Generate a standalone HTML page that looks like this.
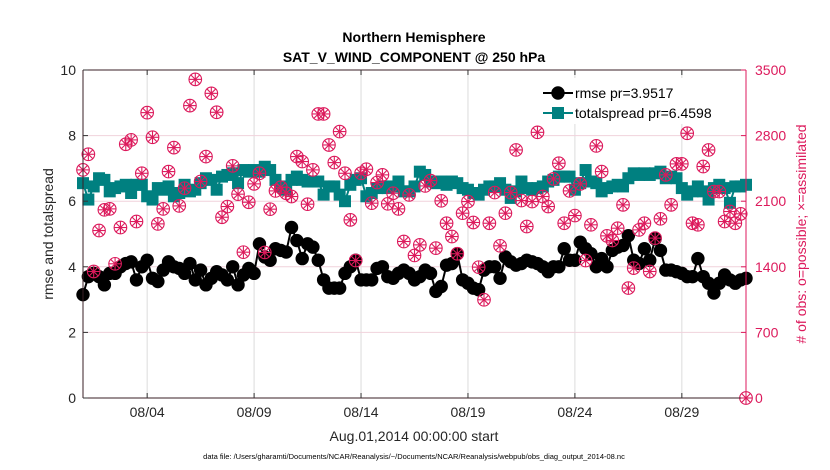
<!DOCTYPE html>
<html><head><meta charset="utf-8"><style>
html,body{margin:0;padding:0;background:#fff;}
svg{display:block;font-family:"Liberation Sans",sans-serif;}
</style></head><body>
<svg id="chart" width="830" height="470" viewBox="0 0 830 470">
<rect width="830" height="470" fill="#fff"/>
<g id="grid"></g>
<g id="series"></g>
<g id="axes"></g>
</svg>
<script>
const xTickLabels = ["08/04","08/09","08/14","08/19","08/24","08/29"];
const xTickDays = [3,8,13,18,23,28];
const yLeftTicks = [0,2,4,6,8,10];
const yRightTicks = [0,700,1400,2100,2800,3500];
const rmse = [3.15,3.7,3.8,3.7,3.45,3.8,3.8,4.0,4.1,4.15,3.6,4.0,4.2,3.65,3.55,3.9,4.15,4.0,3.95,3.8,4.1,3.6,3.9,3.45,3.65,3.85,3.75,3.6,4.0,3.45,3.75,3.95,3.8,4.7,4.3,4.2,4.55,4.5,4.45,5.2,4.8,4.25,4.7,4.6,4.2,3.6,3.35,3.35,3.35,3.8,4.0,4.2,3.6,3.6,3.6,3.95,4.0,3.7,3.65,3.8,3.9,3.8,3.6,3.7,3.9,3.8,3.25,3.4,4.05,
4.1,4.4,3.6,3.5,3.35,3.3,3.9,4.0,4.0,3.65,4.3,4.15,4.05,4.1,4.2,4.15,4.1,4.0,3.85,4.0,4.0,4.55,4.2,4.2,4.75,4.55,4.4,4.0,4.25,4.0,4.5,4.6,4.65,4.95,4.2,4.1,4.55,4.2,4.85,4.5,3.9,3.9,3.85,3.8,3.7,3.7,4.25,3.7,3.5,3.2,3.5,3.75,3.6,3.5,3.6,3.65];
const spread = [6.55,6.05,6.45,6.7,6.65,6.3,6.4,6.45,6.5,6.25,6.5,6.5,6.15,6.05,6.4,6.35,6.45,6.15,6.25,6.5,6.3,6.35,6.55,6.7,6.65,6.35,6.75,6.8,6.85,6.55,6.95,6.9,6.95,6.9,7.05,6.95,6.65,6.45,6.35,6.65,6.75,6.65,6.6,6.6,6.6,6.2,6.45,6.45,6.2,6.0,6.5,6.65,6.7,6.15,6.25,6.4,6.45,6.4,6.45,6.6,6.3,6.3,6.45,6.9,6.8,6.6,6.55,6.6,6.5,
6.6,6.55,6.4,6.35,6.25,6.2,6.35,6.45,6.45,6.55,6.35,6.1,6.3,6.6,6.4,6.35,6.4,6.45,6.6,6.65,6.75,6.75,6.75,6.35,6.55,6.95,6.6,6.55,6.3,6.4,6.45,6.5,6.45,6.7,6.85,6.8,6.85,6.8,6.85,6.9,6.7,6.75,6.7,6.4,6.2,6.3,6.45,6.3,6.05,6.4,6.5,6.4,5.95,6.45,6.45,6.5];
const obsCount = [2434,2601,1350,1787,2008,2018,1432,1819,2708,2754,1883,2398,3045,2782,1858,2018,2416,2672,2050,2239,3120,3400,2310,2576,3251,3049,1929,2043,2477,2175,1556,2089,2285,2398,1553,2015,2210,2249,2185,2150,2576,2523,2068,2434,3031,3031,2700,2512,2843,2398,1901,1467,2398,2441,2079,2299,2381,2072,2185,2018,1670,2167,1521,1634,2263,2320,1599,2104,1865,
1723,1539,1972,2096,1873,1396,1048,1865,2192,1624,1972,2192,2647,2107,1830,2096,2835,2150,2043,2338,2505,1865,2210,1947,2285,1467,1848,2690,2416,1730,1681,1812,2061,1173,1386,1794,1865,1350,1706,1912,2381,2061,2498,2498,2825,1865,1848,2470,2647,2203,2203,1883,1990,1865,1965,0];

const L=83,R=746,T=70,B=398, DAYS=31;
const NS="http://www.w3.org/2000/svg";
const xDay=d=>L+(R-L)*d/DAYS;
const xIdx=i=>xDay(i*0.25);
const yL=v=>B-(B-T)*v/10;
const yR=v=>B-(B-T)*v/3500;
function mk(tag,attrs,parent){const e=document.createElementNS(NS,tag);for(const k in attrs)e.setAttribute(k,attrs[k]);parent.appendChild(e);return e;}
const grid=document.getElementById('grid'),ser=document.getElementById('series'),ax=document.getElementById('axes');
const PINK="#dc1a5c",TEAL="#008080";

xTickDays.forEach((d,i)=>{const g=mk('line',{x1:xDay(d),x2:xDay(d),y1:T,y2:B,stroke:"#dcdcdc","stroke-width":1},grid);

});
yRightTicks.forEach(v=>{if(v===0||v===3500)return;const g=mk('line',{x1:L,x2:R,y1:yR(v),y2:yR(v),stroke:"#f0d2dc","stroke-width":1},grid);

});

const sp=spread.map((v,i)=>xIdx(i)+','+yL(v)).join(' ');
const spl=mk('polyline',{points:sp,fill:"none",stroke:TEAL,"stroke-width":2},ser);


spread.forEach((v,i)=>{const r=mk('rect',{x:xIdx(i)-6,y:yL(v)-6,width:12,height:12,fill:TEAL},ser);

});

const rp=rmse.map((v,i)=>xIdx(i)+','+yL(v)).join(' ');
const rl=mk('polyline',{points:rp,fill:"none",stroke:"#000","stroke-width":2},ser);


rmse.forEach((v,i)=>{const c=mk('circle',{cx:xIdx(i),cy:yL(v),r:6.7,fill:"#000"},ser);

});

function obsMarker(x,y,parent){const g=mk('g',{stroke:PINK,"stroke-width":1.1,fill:"none"},parent);
mk('circle',{cx:x,cy:y,r:6.3},g);
mk('line',{x1:x-6.3,x2:x+6.3,y1:y,y2:y},g);mk('line',{x1:x,x2:x,y1:y-6.3,y2:y+6.3},g);
mk('line',{x1:x-4.4,x2:x+4.4,y1:y-4.4,y2:y+4.4},g);mk('line',{x1:x-4.4,x2:x+4.4,y1:y+4.4,y2:y-4.4},g);return g;}
obsCount.forEach((v,i)=>{const g=obsMarker(xIdx(i),yR(v),ser);

});

const fr=mk('line',{x1:L,x2:R,y1:B,y2:B,stroke:"#3a1f26","stroke-width":1},ax);

const tl=mk('line',{x1:L,x2:R,y1:T,y2:T,stroke:"#3a1f26","stroke-width":1},ax);

const la=mk('line',{x1:L,x2:L,y1:T,y2:B,stroke:"#3a1f26","stroke-width":1},ax);

const ra=mk('line',{x1:R,x2:R,y1:T,y2:B,stroke:PINK,"stroke-width":1},ax);


xTickDays.forEach((d,i)=>{mk('line',{x1:xDay(d),x2:xDay(d),y1:B,y2:B-5,stroke:"#333"},ax);mk('line',{x1:xDay(d),x2:xDay(d),y1:T,y2:T+5,stroke:"#333"},ax);
const t=mk('text',{x:xDay(d),y:B+19,"text-anchor":"middle","font-size":14,fill:"#262626"},ax);t.textContent=xTickLabels[i];

});
yLeftTicks.forEach(v=>{mk('line',{x1:L,x2:L+5,y1:yL(v),y2:yL(v),stroke:"#333"},ax);
const t=mk('text',{x:L-7,y:yL(v)+5,"text-anchor":"end","font-size":14,fill:"#262626"},ax);t.textContent=v;

});
yRightTicks.forEach(v=>{mk('line',{x1:R,x2:R-5,y1:yR(v),y2:yR(v),stroke:PINK},ax);
const t=mk('text',{x:R+9,y:yR(v)+5,"text-anchor":"start","font-size":14,fill:PINK},ax);t.textContent=v;

});
</script>
<svg style="position:absolute;left:0;top:0" width="830" height="470">
<text x="414" y="42" text-anchor="middle" font-size="14" font-weight="bold" font-family="Liberation Sans,sans-serif">Northern Hemisphere</text>
<text x="414" y="62" text-anchor="middle" font-size="14" font-weight="bold" font-family="Liberation Sans,sans-serif">SAT_V_WIND_COMPONENT @ 250 hPa</text>
<text transform="translate(53,234) rotate(-90)" text-anchor="middle" font-size="14" fill="#262626" font-family="Liberation Sans,sans-serif">rmse and totalspread</text>
<text transform="translate(806,234) rotate(-90)" text-anchor="middle" font-size="14" fill="#dc1a5c" font-family="Liberation Sans,sans-serif"># of obs: o=possible; ×=assimilated</text>
<text x="414" y="441" text-anchor="middle" font-size="14" fill="#262626" font-family="Liberation Sans,sans-serif">Aug.01,2014 00:00:00 start</text>
<text x="414" y="459" text-anchor="middle" font-size="7.5" fill="#000" font-family="Liberation Sans,sans-serif">data file: /Users/gharamti/Documents/NCAR/Reanalysis/~/Documents/NCAR/Reanalysis/webpub/obs_diag_output_2014-08.nc</text>
<g>
<rect x="538" y="78" width="205" height="46" fill="#fff"/>
<g>
<line x1="543" x2="573" y1="93" y2="93" stroke="#000" stroke-width="2"/><circle cx="558" cy="93" r="6.7" fill="#000"/>
<text x="575" y="98" font-size="14" fill="#000" font-family="Liberation Sans,sans-serif">rmse pr=3.9517</text></g>
<g>
<line x1="543" x2="573" y1="113" y2="113" stroke="#008080" stroke-width="2"/><rect x="552" y="107" width="12" height="12" fill="#008080"/>
<text x="575" y="118" font-size="14" fill="#000" font-family="Liberation Sans,sans-serif">totalspread pr=6.4598</text></g>
</g>
</svg>
</body></html>
